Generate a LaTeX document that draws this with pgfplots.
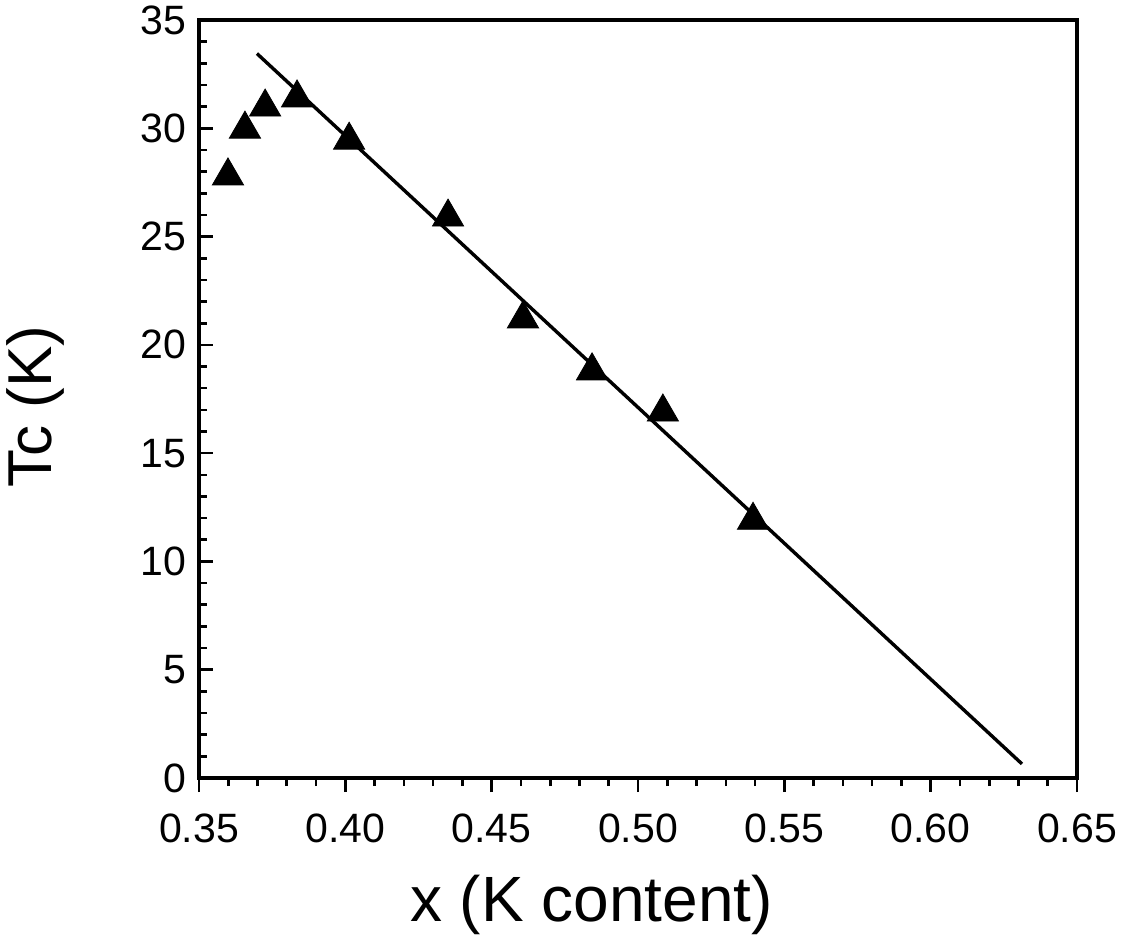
\documentclass[border=0pt]{standalone}
\usepackage{fontspec}
\setmainfont{Liberation Sans}
\usepackage{pgfplots}
\pgfplotsset{compat=1.18}
\begin{document}
\begin{tikzpicture}
\useasboundingbox (-99.5pt,-80.5pt) rectangle (462.5pt,389pt);
\begin{axis}[
  at={(0,0)}, anchor=south west,
  scale only axis, width=439pt, height=379pt,
  xmin=0.35, xmax=0.65, ymin=0, ymax=35,
  xtick={0.35,0.40,0.45,0.50,0.55,0.60,0.65},
  xticklabels={0.35,0.40,0.45,0.50,0.55,0.60,0.65},
  ytick={0,5,10,15,20,25,30,35},
  minor x tick num=4, minor y tick num=4,
  xtick pos=left, ytick pos=left,
  xtick align=outside, ytick align=inside,
  major tick length=7pt, minor tick length=4pt,
  every tick/.style={black, line width=1.3pt},
  axis line style={line width=1.6pt},
  /pgf/number format/assume math mode=true,
  tick label style={font=\fontsize{20.5}{24}\selectfont},
  xticklabel style={yshift=-7.5pt},
  yticklabel style={xshift=-3pt},
  xlabel={x (K content)},
  ylabel={Tc (K)},
  xlabel style={font=\fontsize{32}{38}\selectfont, at={(axis description cs:0.447,-0.1675)}, anchor=center},
  ylabel style={font=\fontsize{31}{36}\selectfont, at={(axis description cs:-0.1857,0.49)}, anchor=center},
]
\addplot[black, line width=1.7pt, no marks] coordinates {(0.3698,33.45) (0.6312,0.65)};
\addplot[only marks, mark=triangle*, mark size=9pt, black] coordinates {
 (0.3599,27.8) (0.3657,29.96) (0.3726,30.98) (0.3835,31.4) (0.4013,29.45)
 (0.4351,25.9) (0.4607,21.2) (0.4843,18.8) (0.5085,16.9) (0.5393,11.9)
};
\end{axis}
\end{tikzpicture}
\end{document}
